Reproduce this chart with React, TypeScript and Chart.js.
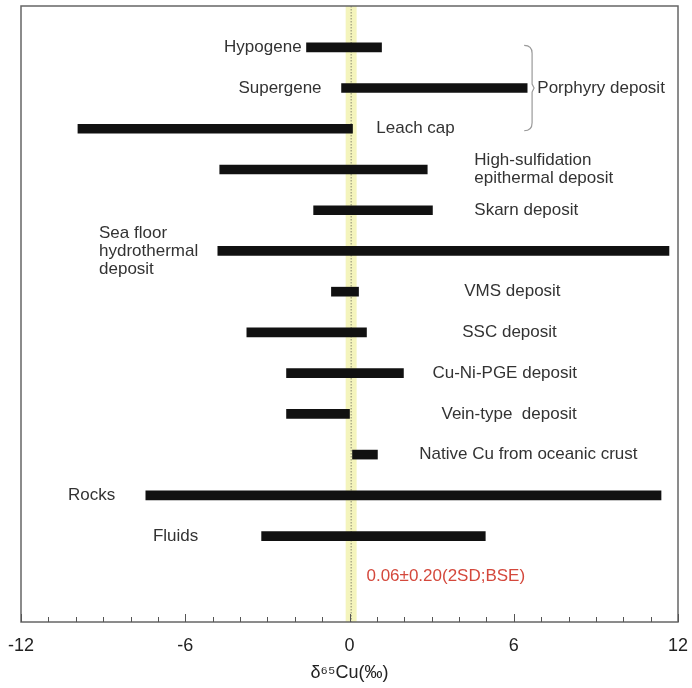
import React, { useEffect, useRef } from "react";
import { Chart, registerables } from "chart.js";

Chart.register(...registerables);

const FONT = "'Liberation Sans', Arial, Helvetica, sans-serif";

// ---- data ----
const categories = [
  "Hypogene",
  "Supergene",
  "Leach cap",
  "High-sulfidation epithermal deposit",
  "Skarn deposit",
  "Sea floor hydrothermal deposit",
  "VMS deposit",
  "SSC deposit",
  "Cu-Ni-PGE deposit",
  "Vein-type deposit",
  "Native Cu from oceanic crust",
  "Rocks",
  "Fluids",
];
const minValues = [-1.57, -0.29, -9.92, -4.74, -1.31, -4.81, -0.66, -3.75, -2.3, -2.3, 0.11, -7.44, -3.21];
const maxValues = [1.17, 6.49, 0.11, 2.84, 3.03, 11.67, 0.33, 0.62, 1.97, 0.0, 1.02, 11.38, 4.96];
const xTickLabels = [-12, -6, 0, 6, 12];
const bseMean = 0.06;
const bseSD = 0.2;
const bseText = "0.06±0.20(2SD;BSE)";
const axisTitle = "δ⁶⁵Cu(‰)";

// ---- annotation layout (x in ‰ units, row index) ----
type Ann = { lines: string[]; x: number; row: number; align: CanvasTextAlign; color?: string };
const annotations: Ann[] = [
  { lines: ["Hypogene"], x: -1.75, row: 0, align: "right" },
  { lines: ["Supergene"], x: -1.02, row: 1, align: "right" },
  { lines: ["Leach cap"], x: 0.98, row: 2, align: "left" },
  { lines: ["Porphyry deposit"], x: 6.86, row: 1, align: "left" },
  { lines: ["High-sulfidation", "epithermal deposit"], x: 4.56, row: 3, align: "left" },
  { lines: ["Skarn deposit"], x: 4.56, row: 4, align: "left" },
  { lines: ["Sea floor", "hydrothermal", "deposit"], x: -9.15, row: 5, align: "left" },
  { lines: ["VMS deposit"], x: 4.19, row: 6, align: "left" },
  { lines: ["SSC deposit"], x: 4.12, row: 7, align: "left" },
  { lines: ["Cu-Ni-PGE deposit"], x: 3.03, row: 8, align: "left" },
  { lines: ["Vein-type  deposit"], x: 3.36, row: 9, align: "left" },
  { lines: ["Native Cu from oceanic crust"], x: 2.55, row: 10, align: "left" },
  { lines: ["Rocks"], x: -10.28, row: 11, align: "left" },
  { lines: ["Fluids"], x: -7.18, row: 12, align: "left" },
  { lines: [bseText], x: 0.62, row: 13, align: "left", color: "#d4483c" },
];
const bracket = { x: 6.67, hook: 6.38, fromRow: 0, toRow: 2 };

const decorPlugin = {
  id: "decor",
  beforeDatasetsDraw(chart: any) {
    const { ctx, chartArea: a, scales } = chart;
    const xs = scales.x;
    ctx.save();
    const x1 = xs.getPixelForValue(bseMean - bseSD);
    const x2 = xs.getPixelForValue(bseMean + bseSD);
    ctx.fillStyle = "#f4f4bc";
    ctx.fillRect(x1, a.top, x2 - x1, a.bottom - a.top);
    const xm = xs.getPixelForValue(bseMean);
    ctx.strokeStyle = "#8a8a70";
    ctx.lineWidth = 1;
    ctx.setLineDash([1.5, 1.5]);
    ctx.beginPath();
    ctx.moveTo(xm, a.top);
    ctx.lineTo(xm, a.bottom);
    ctx.stroke();
    ctx.restore();
  },
  afterDatasetsDraw(chart: any) {
    const { ctx, chartArea: a, scales } = chart;
    const xs = scales.x;
    const ys = scales.y;
    ctx.save();
    // frame
    ctx.strokeStyle = "#666";
    ctx.lineWidth = 1.5;
    ctx.strokeRect(a.left, a.top, a.right - a.left, a.bottom - a.top);
    // inward ticks
    ctx.lineWidth = 1;
    ctx.strokeStyle = "#555";
    for (let v = -12; v <= 12; v++) {
      const px = Math.round(xs.getPixelForValue(v)) + 0.5;
      const len = v % 6 === 0 ? 8 : 5;
      ctx.beginPath();
      ctx.moveTo(px, a.bottom);
      ctx.lineTo(px, a.bottom - len);
      ctx.stroke();
    }
    // tick labels
    ctx.fillStyle = "#222";
    ctx.font = `18px ${FONT}`;
    ctx.textAlign = "center";
    ctx.textBaseline = "middle";
    for (const v of xTickLabels) {
      ctx.fillText(String(v), xs.getPixelForValue(v), a.bottom + 24);
    }
    // axis title
    ctx.fillText(axisTitle, (a.left + a.right) / 2, a.bottom + 51);
    // bracket
    const bx = xs.getPixelForValue(bracket.x);
    const hx = xs.getPixelForValue(bracket.hook);
    const yt = ys.getPixelForValue(bracket.fromRow);
    const yb = ys.getPixelForValue(bracket.toRow);
    const ym = (yt + yb) / 2;
    ctx.strokeStyle = "#9a9a9a";
    ctx.lineWidth = 1.2;
    ctx.beginPath();
    ctx.moveTo(hx, yt - 2);
    ctx.quadraticCurveTo(bx, yt - 2, bx, yt + 6);
    ctx.lineTo(bx, ym - 4);
    ctx.lineTo(bx + 2, ym);
    ctx.lineTo(bx, ym + 4);
    ctx.lineTo(bx, yb - 6);
    ctx.quadraticCurveTo(bx, yb + 2, hx, yb + 2);
    ctx.stroke();
    // labels
    ctx.font = `17px ${FONT}`;
    ctx.textBaseline = "middle";
    const lh = 18;
    for (const an of annotations) {
      ctx.fillStyle = an.color || "#333";
      ctx.textAlign = an.align;
      const px = xs.getPixelForValue(an.x);
      const py = ys.getPixelForValue(an.row);
      const n = an.lines.length;
      an.lines.forEach((t, k) => {
        ctx.fillText(t, px, py + (k - (n - 1) / 2) * lh);
      });
    }
    ctx.restore();
  },
};

export default function App() {
  const ref = useRef<HTMLCanvasElement | null>(null);
  useEffect(() => {
    document.body.style.margin = "0";
    const canvas = ref.current;
    if (!canvas) return;
    const chart = new Chart(canvas, {
      type: "bar",
      data: {
        datasets: [
          {
            label: "δ65Cu range",
            data: categories.map((c, i) => ({ y: i, x: [minValues[i], maxValues[i]] })) as any,
            backgroundColor: "#111",
            borderWidth: 0,
            barThickness: 9,
          },
        ],
      },
      options: {
        indexAxis: "y",
        animation: false,
        responsive: false,
        maintainAspectRatio: false,
        events: [],
        layout: { padding: { left: 21, right: 14, top: 6, bottom: 66 } },
        plugins: { legend: { display: false }, tooltip: { enabled: false } },
        scales: {
          x: { type: "linear", min: -12, max: 12, display: false, offset: false },
          y: { type: "linear", reverse: true, min: -1.014, max: 14.11, display: false, offset: false },
        },
      },
      plugins: [decorPlugin],
    } as any);
    return () => chart.destroy();
  }, []);
  return (
    <div style={{ width: 692, height: 688 }}>
      <canvas ref={ref} width={692} height={688} style={{ display: "block" }} />
    </div>
  );
}
